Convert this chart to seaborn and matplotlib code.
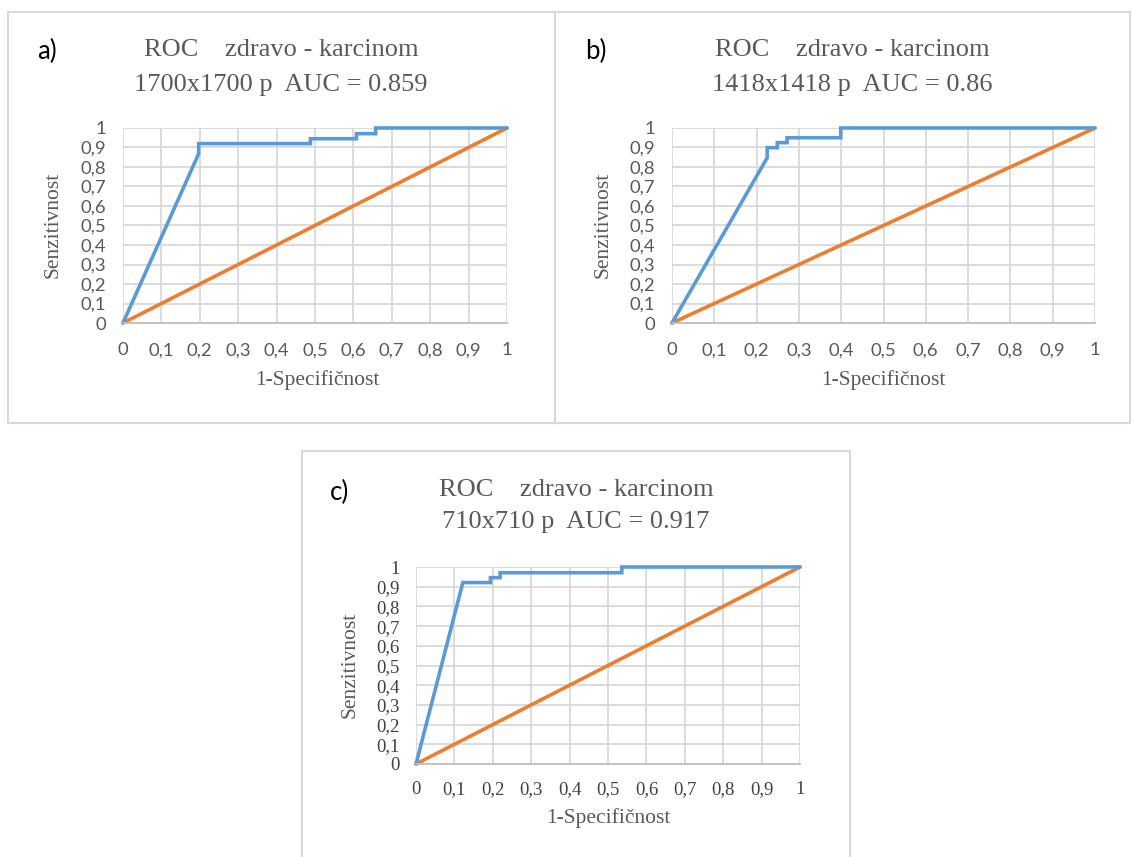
import matplotlib
matplotlib.use("Agg")
import matplotlib.pyplot as plt
from matplotlib.patches import Rectangle
import seaborn as sns
import pandas as pd

# ---- data ----
a_fpr = [0, 0.197, 0.197, 0.488, 0.488, 0.608, 0.608, 0.658, 0.658, 1]
a_tpr = [0, 0.868, 0.92, 0.92, 0.945, 0.945, 0.971, 0.971, 1, 1]
b_fpr = [0, 0.225, 0.225, 0.249, 0.249, 0.272, 0.272, 0.399, 0.399, 1]
b_tpr = [0, 0.847, 0.899, 0.899, 0.925, 0.925, 0.95, 0.95, 1, 1]
c_fpr = [0, 0.122, 0.194, 0.194, 0.219, 0.219, 0.536, 0.536, 1]
c_tpr = [0, 0.921, 0.921, 0.946, 0.946, 0.971, 0.971, 1, 1]
diag_x = [0, 1]
diag_y = [0, 1]
ticks = [0, 0.1, 0.2, 0.3, 0.4, 0.5, 0.6, 0.7, 0.8, 0.9, 1]
tick_labels = ["0", "0,1", "0,2", "0,3", "0,4", "0,5", "0,6", "0,7", "0,8", "0,9", "1"]
panel_letters = ["a)", "b)", "c)"]
title_line1 = "ROC    zdravo - karcinom"
title_line2 = ["1700x1700 p  AUC = 0.859", "1418x1418 p  AUC = 0.86", "710x710 p  AUC = 0.917"]
xlabel = "1-Specifičnost"
ylabel = "Senzitivnost"

sns.set_theme(style="white")
W, H = 1132, 857
fig = plt.figure(figsize=(W / 100, H / 100), dpi=100)
fig.patch.set_facecolor("white")

def px_rect(x0, y0, x1, y1):
    return [x0 / W, 1 - y1 / H, (x1 - x0) / W, (y1 - y0) / H]

# panel borders
border = "#d9d9d9"
for (x0, y0, x1, y1) in [(8, 12, 555, 423), (555, 12, 1130, 423), (302, 451, 850, 870)]:
    fig.add_artist(Rectangle((x0 / W, 1 - y1 / H), (x1 - x0) / W, (y1 - y0) / H,
                             transform=fig.transFigure, fill=False,
                             edgecolor=border, linewidth=1.5))

blue = "#5B9BD5"
orange = "#ED7D31"
grey_txt = "#595959"

panels = [
    dict(fpr=a_fpr, tpr=a_tpr, ax=(123, 128, 507, 323), sans=True,
         letter=(37, 51), title_x=281, title_y=(50, 85),
         ylab=(53, 225), xlab=(317, 380)),
    dict(fpr=b_fpr, tpr=b_tpr, ax=(672, 128, 1095, 323), sans=True,
         letter=(585, 51), title_x=852, title_y=(50, 85),
         ylab=(603, 225), xlab=(883, 380)),
    dict(fpr=c_fpr, tpr=c_tpr, ax=(416, 567, 800, 764), sans=False,
         letter=(330, 492), title_x=576, title_y=(490, 522),
         ylab=(350, 665), xlab=(608, 818)),
]

for i, p in enumerate(panels):
    ax = fig.add_axes(px_rect(*p["ax"]))
    ax.set_xlim(0, 1)
    ax.set_ylim(0, 1)
    ax.grid(True, color="#d9d9d9", linewidth=1.3)
    ax.set_axisbelow(True)
    for s in ["top", "right", "left"]:
        ax.spines[s].set_visible(False)
    ax.spines["bottom"].set_color("#bfbfbf")
    ax.spines["bottom"].set_linewidth(1.3)
    df_d = pd.DataFrame({"x": diag_x, "y": diag_y})
    sns.lineplot(data=df_d, x="x", y="y", ax=ax, color=orange, linewidth=2.6,
                 sort=False, estimator=None, solid_capstyle="round", clip_on=False)
    df = pd.DataFrame({"x": p["fpr"], "y": p["tpr"]})
    sns.lineplot(data=df, x="x", y="y", ax=ax, color=blue, linewidth=2.6,
                 sort=False, estimator=None, errorbar=None,
                 solid_joinstyle="miter", clip_on=False)
    ax.set_xticks(ticks)
    ax.set_yticks(ticks)
    if p["sans"]:
        fp = dict(family="Lato", size=13.3, color=grey_txt)
        ax.tick_params(axis="y", length=0, pad=12)
        ax.tick_params(axis="x", length=0, pad=14)
    else:
        fp = dict(family="Liberation Serif", size=13.5, color="#404040")
        ax.tick_params(axis="y", length=0, pad=12)
        ax.tick_params(axis="x", length=0, pad=12)
    ax.set_xticklabels(tick_labels, **fp)
    ax.set_yticklabels(tick_labels, **fp)
    ax.set_xlabel("")
    ax.set_ylabel("")

    lx, ly = p["letter"]
    fig.text(lx / W, 1 - ly / H, panel_letters[i], family="Lato", size=18.5,
             color="black", va="center", ha="left")
    fig.text(p["title_x"] / W, 1 - p["title_y"][0] / H, title_line1,
             family="Liberation Serif", size=19, color=grey_txt, ha="center", va="center")
    fig.text(p["title_x"] / W, 1 - p["title_y"][1] / H, title_line2[i],
             family="Liberation Serif", size=19, color=grey_txt, ha="center", va="center")
    yx, yy = p["ylab"]
    fig.text(yx / W, 1 - yy / H, ylabel, family="Liberation Serif", size=15.5,
             color=grey_txt, rotation=90, ha="center", va="center")
    xx, xy = p["xlab"]
    fig.text(xx / W, 1 - xy / H, xlabel, family="Liberation Serif", size=15.5,
             color=grey_txt, ha="center", va="center")

fig.savefig("out.png", dpi=100, facecolor="white")
